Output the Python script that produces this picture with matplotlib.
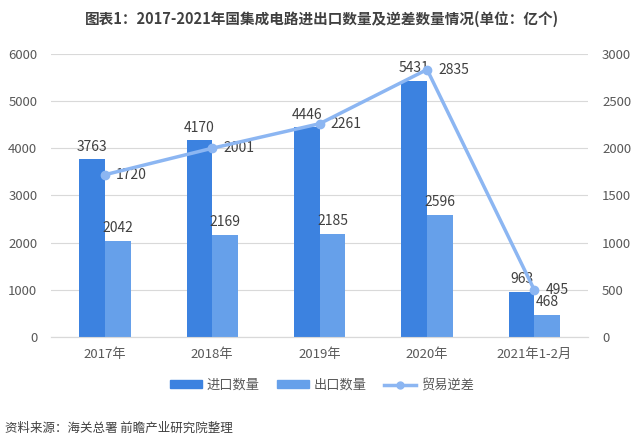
import matplotlib
matplotlib.use("Agg")
import matplotlib.pyplot as plt
import numpy as np
from matplotlib.lines import Line2D
from matplotlib.patches import Patch

plt.rcParams['font.family'] = ['Noto Sans CJK SC', 'DejaVu Sans']

categories = ['2017年', '2018年', '2019年', '2020年', '2021年1-2月']
imports = [3763, 4170, 4446, 5431, 963]
exports = [2042, 2169, 2185, 2596, 468]
deficit = [1720, 2001, 2261, 2835, 495]

c_imp = '#3C82E0'
c_exp = '#66A0EA'
c_line = '#8CB6F2'
txt = '#404040'
tick_c = '#595959'

fig = plt.figure(figsize=(6.4, 4.46), dpi=100)
ax = fig.add_axes([0.080, 0.2444, 0.839, 0.6346])
ax2 = ax.twinx()

x = np.arange(len(categories))
w = 0.24
ax.bar(x - w/2, imports, w, color=c_imp, zorder=3)
ax.bar(x + w/2, exports, w, color=c_exp, zorder=3)
ax2.plot(x, deficit, color=c_line, lw=2.5, marker='o', ms=6, zorder=5)

ax.set_xlim(-0.5, len(categories) - 0.5)
ax.set_ylim(0, 6000)
ax2.set_ylim(0, 3000)
ax.set_yticks(range(0, 6001, 1000))
ax2.set_yticks(range(0, 3001, 500))
ax.set_xticks(x)
ax.set_xticklabels(categories)

ax.grid(axis='y', color='#D9D9D9', lw=0.8, zorder=0)
ax.set_axisbelow(True)
for a in (ax, ax2):
    for s in ['top', 'left', 'right']:
        a.spines[s].set_visible(False)
    a.spines['bottom'].set_color('#D9D9D9')
    a.tick_params(length=0, colors=tick_c, labelsize=9.5)
ax.tick_params(axis='y', pad=10)
ax2.tick_params(axis='y', pad=10)
ax.tick_params(axis='x', pad=8)
ax.set_zorder(ax2.get_zorder() - 1)
ax.patch.set_visible(True)
ax2.patch.set_visible(False)

for xi, v in zip(x, imports):
    ax.annotate(str(v), (xi - w/2, v), xytext=(0, 4), textcoords='offset points',
                ha='center', va='bottom', fontsize=10, color=txt)
for xi, v in zip(x, exports):
    ax.annotate(str(v), (xi + w/2, v), xytext=(0, 4), textcoords='offset points',
                ha='center', va='bottom', fontsize=10, color=txt)
for xi, v in zip(x, deficit):
    ax2.annotate(str(v), (xi, v), xytext=(8, 0), textcoords='offset points',
                 ha='left', va='center', fontsize=10, color=txt)

fig.text(0.503, 0.958, '图表1：2017-2021年国集成电路进出口数量及逆差数量情况(单位：亿个)',
         ha='center', va='center', fontsize=10.5, fontweight='bold', color=txt)

handles = [Patch(color=c_imp), Patch(color=c_exp),
           Line2D([0], [0], color=c_line, lw=2.5, marker='o', ms=5)]
fig.legend(handles, ['进口数量', '出口数量', '贸易逆差'], loc='center',
           bbox_to_anchor=(0.503, 0.136), ncol=3, frameon=False, fontsize=9.5,
           handlelength=2.4, handleheight=0.55, columnspacing=1.3, handletextpad=0.4,
           labelcolor=tick_c)

fig.text(0.008, 0.040, '资料来源：海关总署 前瞻产业研究院整理', ha='left', va='center',
         fontsize=9, color=txt)

fig.savefig('out.png', dpi=100)
